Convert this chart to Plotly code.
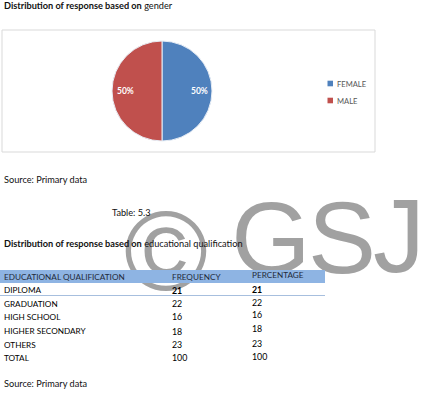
import math
import plotly.graph_objects as go

# ---- data ----
gender_labels = ["FEMALE", "MALE"]
gender_values = [50, 50]
gender_colors = ["#4F81BD", "#C0504D"]

edu_categories = ["DIPLOMA", "GRADUATION", "HIGH SCHOOL", "HIGHER SECONDARY", "OTHERS", "TOTAL"]
edu_frequency = [21, 22, 16, 18, 23, 100]
edu_percentage = [21, 22, 16, 18, 23, 100]
table_headers = ["EDUCATIONAL QUALIFICATION", "FREQUENCY", "PERCENTAGE"]

watermark_glyphs = ["©", "G", "S", "J"]

W, H = 428, 409
FONT = "Lato"
BODY = 9.2
TAB = 8.2

# layout positions (pixels)
row_y_freq = [290, 303.5, 316.5, 331, 344.5, 357.5]
row_y_pct = [289, 302, 314.5, 328, 343, 356]
col_x = [2, 170, 250]
wm_x = [166, 271, 342, 399]
wm_y = [261, 247, 247, 246]
wm_size = [114, 102, 102, 104]

pie_cx, pie_cy, pie_r = 162, 91, 50

fig = go.Figure()

# watermark (drawn as a text trace so the table band can cover it)
fig.add_trace(go.Scatter(
    x=wm_x, y=wm_y, mode="text", text=watermark_glyphs,
    textposition="middle center",
    textfont=dict(family="Liberation Sans", size=wm_size, color="rgba(140,140,140,0.82)"),
    hoverinfo="skip", showlegend=False, xaxis="x", yaxis="y"))

fig.add_trace(go.Pie(
    labels=gender_labels, values=gender_values, sort=False, direction="clockwise",
    rotation=0, marker=dict(colors=gender_colors, line=dict(color="#E8EEF6", width=1)),
    textinfo="none", showlegend=False,
    domain=dict(x=[(pie_cx - pie_r) / W, (pie_cx + pie_r) / W],
                y=[1 - (pie_cy + pie_r) / H, 1 - (pie_cy - pie_r) / H]),
    hoverinfo="label+percent"))

annotations = []

def txt(x, y, s, size=BODY, color="#000000", anchor="left", family=FONT):
    annotations.append(dict(x=x, y=y, xref="x", yref="y", text=s, showarrow=False,
                            xanchor=anchor, yanchor="middle",
                            font=dict(family=family, size=size, color=color)))

# pie percent labels placed at slice mid-angles
total = sum(gender_values)
cum = 0
for v in gender_values:
    mid = (cum + v / 2) / total
    ang = math.pi / 2 - 2 * math.pi * mid  # clockwise from 12 o'clock
    lx = pie_cx + 0.74 * pie_r * math.cos(ang)
    ly = pie_cy - 0.74 * pie_r * math.sin(ang)
    txt(lx, ly, f"<b>{round(100 * v / total)}%</b>", size=8.5, color="white", anchor="center")
    cum += v

# custom legend
legend_y = [83.5, 100.5]
shapes = []
for i, lab in enumerate(gender_labels):
    shapes.append(dict(type="rect", xref="x", yref="y", x0=327.5, x1=333, y0=legend_y[i] - 2.8,
                       y1=legend_y[i] + 2.8, fillcolor=gender_colors[i], line=dict(width=0)))
    txt(334.5, legend_y[i], lab, size=7.6, color="#595959")

txt(2, 5.5, "<b>Distribution of response based on</b> gender", color="#111111")
txt(2, 179, "Source: Primary data", color="#111111")
txt(110, 212, "Table: 5.3", color="#111111")
txt(2, 243.5, "<b>Distribution of response based on</b> educational qualification", color="#111111")
txt(2, 383, "Source: Primary data", color="#111111")

# table header
header_y = [276.5, 277, 275]
for i, h in enumerate(table_headers):
    txt(col_x[i], header_y[i], h, size=TAB, color="#1F2A3A")

# table rows
for i, cat in enumerate(edu_categories):
    txt(col_x[0], row_y_freq[i], cat, size=TAB)
    f = str(edu_frequency[i])
    p = str(edu_percentage[i])
    if i == 0:
        f, p = f"<b>{f}</b>", f"<b>{p}</b>"
    txt(col_x[1], row_y_freq[i], f, size=TAB + 0.6)
    txt(col_x[2], row_y_pct[i], p, size=TAB + 0.6)

shapes += [
    dict(type="rect", xref="x", yref="y", x0=2, x1=375, y0=30, y1=152,
         line=dict(color="#D9D9D9", width=1), layer="below"),
    dict(type="rect", xref="x", yref="y", x0=0, x1=325, y0=270, y1=283,
         fillcolor="#8EB4E3", line=dict(width=0), layer="above"),
    dict(type="line", xref="x", yref="y", x0=0, x1=325, y0=295.5, y1=295.5,
         line=dict(color="#A7BFDE", width=1), layer="above"),
]

fig.update_layout(
    width=W, height=H, margin=dict(l=0, r=0, t=0, b=0),
    paper_bgcolor="white", plot_bgcolor="rgba(0,0,0,0)",
    xaxis=dict(range=[0, W], visible=False, fixedrange=True, domain=[0, 1]),
    yaxis=dict(range=[H, 0], visible=False, fixedrange=True, domain=[0, 1]),
    showlegend=False,
    annotations=annotations, shapes=shapes,
)

fig.write_html("out.html")
